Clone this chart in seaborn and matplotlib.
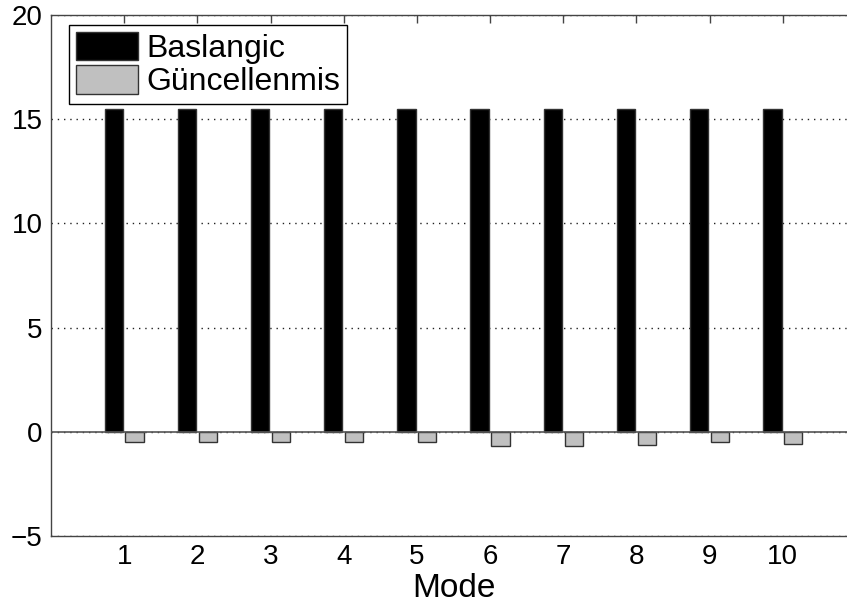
import pandas as pd
import matplotlib
matplotlib.use('Agg')
import matplotlib.pyplot as plt
import seaborn as sns
from matplotlib.patches import Patch

modes = [1, 2, 3, 4, 5, 6, 7, 8, 9, 10]
baslangic = [15.5, 15.5, 15.5, 15.5, 15.5, 15.5, 15.5, 15.5, 15.5, 15.5]
guncellenmis = [-0.50, -0.50, -0.47, -0.50, -0.50, -0.67, -0.67, -0.62, -0.50, -0.56]
series_names = ['Baslangic', 'Güncellenmis']
colors = ['#000000', '#c0c0c0']

df = pd.DataFrame({
    'Mode': modes * 2,
    'value': baslangic + guncellenmis,
    'series': [series_names[0]] * len(modes) + [series_names[1]] * len(modes),
})

sns.set_style('white')
plt.rcParams['font.family'] = ['Liberation Sans', 'DejaVu Sans']
plt.rcParams['text.color'] = 'black'
plt.rcParams['xtick.color'] = 'black'
plt.rcParams['ytick.color'] = 'black'
plt.rcParams['axes.labelcolor'] = 'black'

fig = plt.figure(figsize=(8.47, 6.05), dpi=100)
ax = fig.add_axes([0.0602, 0.114, 0.9504, 0.861])

sns.barplot(data=df, x='Mode', y='value', hue='series', hue_order=series_names,
            palette=colors, saturation=1, width=0.57, gap=0.12,
            edgecolor='#333333', linewidth=1, ax=ax, legend=False, zorder=3)

ax.axhline(0, color='#555555', lw=1.2, zorder=4)
ax.set_xlim(-1, 10)
ax.set_ylim(-5, 20)
ax.set_yticks([-5, 0, 5, 10, 15, 20])
ax.yaxis.grid(True, linestyle=(0, (1, 3.5)), color='#222222', lw=1, zorder=0)
ax.xaxis.grid(False)
ax.set_axisbelow(True)

for s in ax.spines.values():
    s.set_color('#444444')
    s.set_linewidth(1)
    s.set_visible(True)

ax.tick_params(direction='in', length=6, width=1, color='#444444',
               labelcolor='black', top=True, right=True, labelsize=20, pad=6)
ax.set_xlabel('Mode', fontsize=24, labelpad=2)
ax.set_ylabel('')

handles = [Patch(facecolor=c, edgecolor='#333333', lw=1) for c in colors]
leg = ax.legend(handles, series_names, loc='upper left', bbox_to_anchor=(0.0224, 0.981),
                borderaxespad=0, fontsize=23, frameon=True, fancybox=False,
                edgecolor='#000000', framealpha=1, handlelength=1.94, handleheight=0.98,
                labelspacing=0.04, borderpad=0.22, handletextpad=0.25)
leg.get_frame().set_linewidth(1)
leg.set_zorder(10)

plt.savefig('out.png', dpi=100)
